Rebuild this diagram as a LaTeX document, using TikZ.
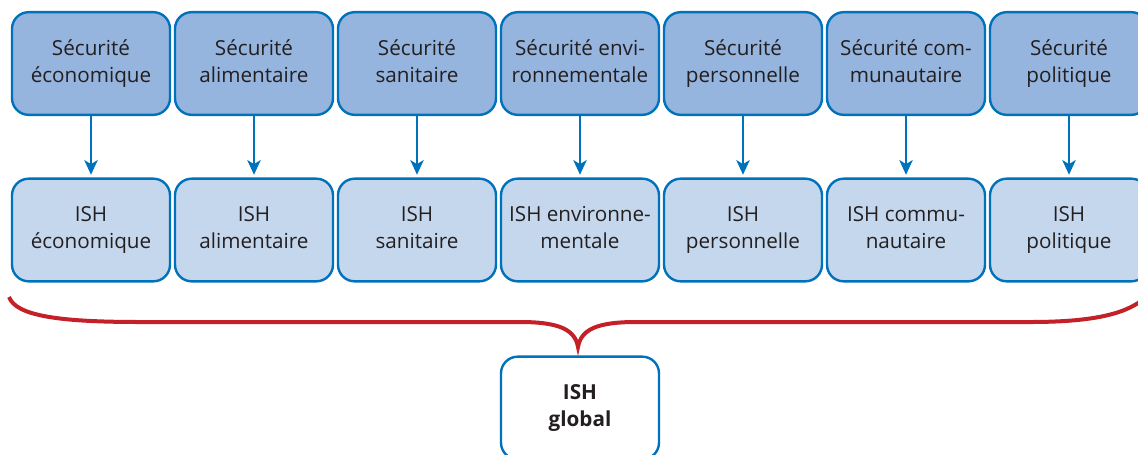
\documentclass[tikz,border=0pt]{standalone}
\usepackage{fontspec}
\setmainfont{Open Sans}
\usetikzlibrary{arrows.meta}
\definecolor{topfill}{RGB}{149,180,222}
\definecolor{botfill}{RGB}{197,215,237}
\definecolor{bordc}{RGB}{0,114,188}
\definecolor{bracec}{RGB}{196,32,40}
\definecolor{txtc}{RGB}{35,31,32}
\tikzset{
  box/.style={draw=bordc, line width=1.8pt, rounded corners=12.5pt, minimum width=118.5pt, minimum height=77pt, inner sep=0pt, align=center, text=txtc, font=\fontsize{15.5}{20.25}\selectfont},
  topbox/.style={box, fill=topfill},
  botbox/.style={box, fill=botfill},
  globbox/.style={box, fill=white, font=\fontsize{15.5}{20.25}\selectfont\bfseries},
  arr/.style={draw=bordc, line width=1.9pt, -{Stealth[length=11pt,width=10pt,inset=3pt]}, shorten >=2pt},
}
\begin{document}
\begin{tikzpicture}[x=0.75pt, y=-0.75pt]
\clip (0,0) rectangle (1138,454);
\fill[white] (0,0) rectangle (1138,454);
\node[topbox] (t1) at (91,63.5) {\strut Sécurité\\\strut économique};
\node[topbox] (t2) at (254,63.5) {\strut Sécurité\\\strut alimentaire};
\node[topbox] (t3) at (417,63.5) {\strut Sécurité\\\strut sanitaire};
\node[topbox] (t4) at (580,63.5) {\strut Sécurité envi-\\\strut ronnementale};
\node[topbox] (t5) at (743,63.5) {\strut Sécurité\\\strut personnelle};
\node[topbox] (t6) at (906,63.5) {\strut Sécurité com-\\\strut munautaire};
\node[topbox] (t7) at (1069,63.5) {\strut Sécurité\\\strut politique};
\node[botbox] (b1) at (91,230) {\strut ISH\\\strut économique};
\node[botbox] (b2) at (254,230) {\strut ISH\\\strut alimentaire};
\node[botbox] (b3) at (417,230) {\strut ISH\\\strut sanitaire};
\node[botbox] (b4) at (580,230) {\strut ISH environne-\\\strut mentale};
\node[botbox] (b5) at (743,230) {\strut ISH\\\strut personnelle};
\node[botbox] (b6) at (906,230) {\strut ISH commu-\\\strut nautaire};
\node[botbox] (b7) at (1069,230) {\strut ISH\\\strut politique};
\foreach \i in {1,...,7} {\draw[arr] (t\i) -- (b\i);}
\node[globbox] (g) at (580,408) {\strut ISH\\\strut global};
\draw[bracec, line width=3pt] (9,297) .. controls (16,316) and (60,322) .. (140,322) -- (520,322) .. controls (560,322) and (575,330) .. (578,347) .. controls (581,330) and (596,322) .. (636,322) -- (1030,322) .. controls (1100,322) and (1128,312) .. (1145,298);
\end{tikzpicture}
\end{document}
